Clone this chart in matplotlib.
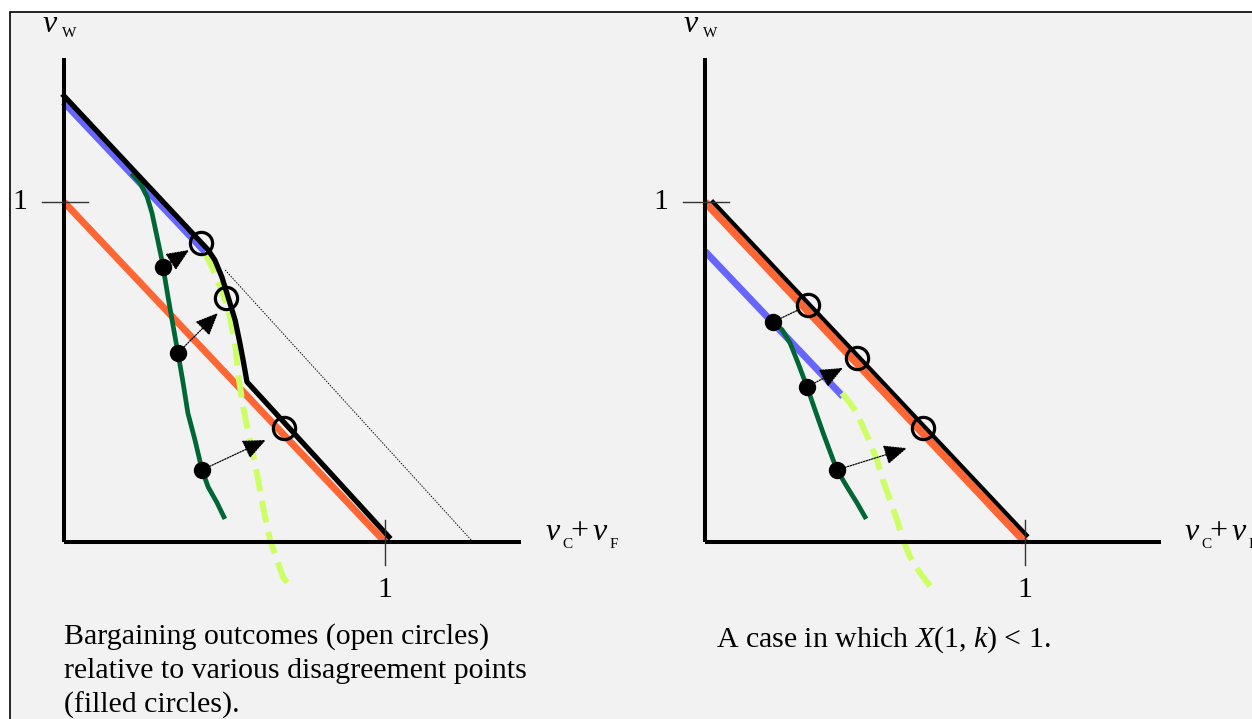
import matplotlib
matplotlib.use("Agg")
import matplotlib.pyplot as plt
from matplotlib.patches import Rectangle
from matplotlib.transforms import offset_copy

plt.rcParams["font.family"] = ["Liberation Serif", "DejaVu Serif"]
plt.rcParams["mathtext.fontset"] = "custom"
plt.rcParams["mathtext.rm"] = "Liberation Serif"
plt.rcParams["mathtext.it"] = "Liberation Serif:italic"
plt.rcParams["lines.scale_dashes"] = False

W, H = 1252, 719

ORANGE = "#ff6633"
BLUE = "#6666ff"
GREEN = "#006633"
YELLOW = "#ccff66"

AXIS_LEN = 1.424

# ---- left panel data ----
L_orange_x = [0.0, 1.0]
L_orange_y = [1.0, 0.0]
L_blue_x = [0.0, 0.44]
L_blue_y = [1.295, 0.855]
L_green_x = [0.215, 0.237, 0.259, 0.274, 0.290, 0.305, 0.324, 0.346, 0.355, 0.371,
             0.386, 0.408, 0.430, 0.449, 0.477, 0.498]
L_green_y = [1.079, 1.056, 1.015, 0.968, 0.897, 0.829, 0.721, 0.603, 0.556, 0.468,
             0.379, 0.300, 0.212, 0.162, 0.115, 0.074]
L_yellow_x = [0.439, 0.461, 0.486, 0.508, 0.520, 0.533, 0.542, 0.558, 0.579, 0.601,
              0.620, 0.642, 0.664, 0.682, 0.713]
L_yellow_y = [0.850, 0.809, 0.750, 0.697, 0.647, 0.585, 0.497, 0.397, 0.300, 0.203,
              0.103, 0.006, -0.053, -0.103, -0.141]
L_front_x = [0.0, 0.449, 0.470, 0.492, 0.511, 0.533, 0.548, 0.558, 0.570, 1.012]
L_front_y = [1.312, 0.859, 0.829, 0.779, 0.721, 0.653, 0.585, 0.535, 0.471, 0.015]
L_tangent_x = [0.502, 1.274]
L_tangent_y = [0.80, 0.0]
L_dots_x = [0.308, 0.355, 0.430]
L_dots_y = [0.809, 0.556, 0.212]
L_circ_x = [0.427, 0.505, 0.685]
L_circ_y = [0.879, 0.718, 0.335]
L_tip_x = [0.390, 0.480, 0.629]
L_tip_y = [0.859, 0.674, 0.300]
L_heads = [True, True, True]
L_caption = ["Bargaining outcomes (open circles)",
             "relative to various disagreement points",
             "(filled circles)."]

# ---- right panel data ----
R_orange_x = [0.0, 1.0]
R_orange_y = [1.0, 0.0]
R_front_x = [0.025, 1.005]
R_front_y = [1.0, 0.02]
R_blue_x = [0.0, 0.431]
R_blue_y = [0.855, 0.428]
R_green_x = [0.2125, 0.241, 0.266, 0.291, 0.319, 0.344, 0.369, 0.397, 0.4125, 0.444,
             0.475, 0.500]
R_green_y = [0.647, 0.624, 0.585, 0.526, 0.456, 0.388, 0.321, 0.250, 0.212, 0.162,
             0.115, 0.074]
R_yellow_x = [0.428, 0.453, 0.475, 0.494, 0.516, 0.5375, 0.556, 0.578, 0.600, 0.619,
              0.641, 0.672, 0.7125]
R_yellow_y = [0.438, 0.409, 0.379, 0.338, 0.291, 0.241, 0.182, 0.124, 0.065, 0.006,
              -0.044, -0.091, -0.141]
R_dots_x = [0.2125, 0.319, 0.4125]
R_dots_y = [0.647, 0.456, 0.212]
R_circ_x = [0.322, 0.475, 0.681]
R_circ_y = [0.697, 0.541, 0.335]
R_tip_x = [0.297, 0.431, 0.631]
R_tip_y = [0.685, 0.512, 0.276]
R_heads = [False, True, True]
R_caption = ["A case in which $X$(1, $k$) < 1."]

TXT = 21.5
PX = 0.72  # points per pixel at dpi 100


def label_runs(ax, x, y, runs):
    # runs: (text, fontsize, style, dx_px, dy_px) placed relative to a data anchor
    for s, size, style, dx, dy in runs:
        tr = offset_copy(ax.transData, fig=ax.figure, x=dx * PX, y=-dy * PX, units="points")
        ax.text(x, y, s, fontsize=size, style=style, transform=tr,
                ha="left", va="baseline")


def make_panel(fig, ox, x_unit, oy=542, y_unit=340.0):
    left_px = ox - 54
    right_px = left_px + 620
    ax = fig.add_axes([left_px / W, 0, 620 / W, (H - 12) / H])
    ax.set_xlim((left_px - ox) / x_unit, (right_px - ox) / x_unit)
    ax.set_ylim((oy - H) / y_unit, (oy - 12) / y_unit)
    ax.set_facecolor("none")
    ax.axis("off")

    # axes and ticks
    ax.plot([0, 0], [0, AXIS_LEN], color="black", lw=2.9, solid_capstyle="butt", zorder=8)
    ax.plot([0, AXIS_LEN], [0, 0], color="black", lw=2.9, solid_capstyle="butt", zorder=8)
    ax.plot([-0.069, 0.075], [1, 1], color="#333333", lw=1.0, zorder=8)
    ax.plot([1, 1], [0.065, -0.068], color="#333333", lw=1.0, zorder=8)
    ax.text(-0.137, 1.0, "1", fontsize=TXT, ha="center", va="center")
    ax.text(1.0, -0.141, "1", fontsize=TXT, ha="center", va="center")
    # v_W at left of y axis top
    label_runs(ax, 0.0, AXIS_LEN, [("v", 23, "italic", -21, -26),
                                   ("W", 11, "normal", -2, -21)])
    # v_C + v_F beside x axis end
    label_runs(ax, AXIS_LEN, 0.0, [("v", 23, "italic", 24, -2),
                                   ("C", 11, "normal", 41, 6),
                                   ("+", 23, "normal", 49, -3),
                                   ("v", 23, "italic", 71, -2),
                                   ("F", 11, "normal", 88, 6)])
    return ax


def draw_marks(ax, dots_x, dots_y, circ_x, circ_y, tip_x, tip_y, heads):
    for x0, y0, x1, y1, h in zip(dots_x, dots_y, tip_x, tip_y, heads):
        style = "-|>,head_length=0.65,head_width=0.28" if h else "-"
        ax.annotate("", xy=(x1, y1), xytext=(x0, y0),
                    arrowprops=dict(arrowstyle=style, linestyle=(0, (1, 1)),
                                    lw=0.9, color="black", mutation_scale=22,
                                    shrinkA=0, shrinkB=0),
                    zorder=9)
    ax.plot(dots_x, dots_y, "o", color="black", ms=11.5, zorder=10)
    ax.plot(circ_x, circ_y, "o", mfc="none", mec="black", ms=16, mew=2.3, zorder=10)


fig = plt.figure(figsize=(W / 100, H / 100), dpi=100)
fig.patch.set_facecolor("white")
fig.patches.append(Rectangle((10 / W, -0.1), 1.2, (H - 12) / H + 0.1,
                             transform=fig.transFigure, facecolor="#f2f2f2",
                             edgecolor="black", lw=1.2, zorder=-10))

# left panel
axl = make_panel(fig, 64, 321.0)
axl.plot(L_orange_x, L_orange_y, color=ORANGE, lw=5.0, solid_capstyle="butt", zorder=2)
axl.plot(L_blue_x, L_blue_y, color=BLUE, lw=5.8, solid_capstyle="butt", zorder=3)
axl.plot(L_green_x, L_green_y, color=GREEN, lw=3.4, solid_joinstyle="round", zorder=4)
axl.plot(L_yellow_x, L_yellow_y, color=YELLOW, lw=4.3, dashes=(16, 7), zorder=5)
axl.plot(L_front_x, L_front_y, color="black", lw=3.8, solid_joinstyle="round", zorder=6)
axl.plot(L_tangent_x, L_tangent_y, color="black", lw=0.7, linestyle=(0, (1, 1)), zorder=6)
draw_marks(axl, L_dots_x, L_dots_y, L_circ_x, L_circ_y, L_tip_x, L_tip_y, L_heads)
for i, line in enumerate(L_caption):
    axl.text(0.0, -0.279 - i * 0.1, line, fontsize=TXT, ha="left", va="center")

# right panel
axr = make_panel(fig, 705, 320.0)
axr.plot(R_orange_x, R_orange_y, color=ORANGE, lw=5.5, solid_capstyle="butt", zorder=2)
axr.plot(R_front_x, R_front_y, color="black", lw=3.0, zorder=6)
axr.plot(R_blue_x, R_blue_y, color=BLUE, lw=5.0, solid_capstyle="butt", zorder=3)
axr.plot(R_green_x, R_green_y, color=GREEN, lw=3.4, solid_joinstyle="round", zorder=4)
axr.plot(R_yellow_x, R_yellow_y, color=YELLOW, lw=4.3, dashes=(16, 7), zorder=5)
draw_marks(axr, R_dots_x, R_dots_y, R_circ_x, R_circ_y, R_tip_x, R_tip_y, R_heads)
axr.text(0.034, -0.288, R_caption[0], fontsize=TXT, ha="left", va="center")

fig.savefig("out.png", dpi=100, facecolor=fig.get_facecolor())
